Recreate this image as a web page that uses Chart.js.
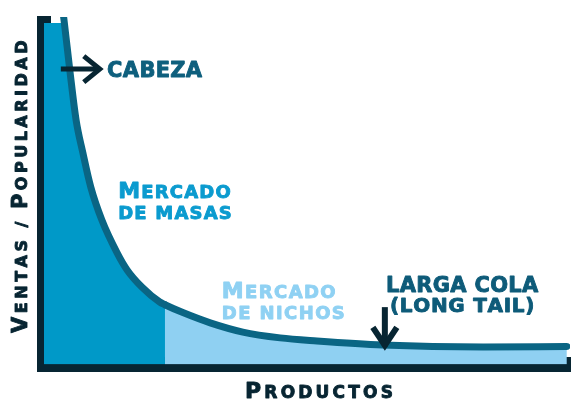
<!DOCTYPE html>
<html>
<head>
<meta charset="utf-8">
<script src="https://cdn.jsdelivr.net/npm/chart.js@4/dist/chart.umd.min.js"></script>
<style>
  html, body { margin: 0; padding: 0; background: #fff; }
</style>
</head>
<body>
<canvas id="myChart" width="571" height="401"></canvas>
<script>
  // posicion del producto en el ranking (0-100) y ventas relativas (0-100)
  const productos = [0, 3.0, 3.8, 4.9, 6.1, 7.4, 8.9, 11.0, 13.9, 15.8, 18.6, 22.0, 23.0, 26.4, 31.6, 37.8, 44.9, 51.9, 64.4, 83.5, 99.4];
  const ventas = [111, 110, 100.9, 86.3, 71.6, 61.9, 51.9, 42.3, 32.7, 27.7, 22.7, 18.3, 17.5, 15.2, 12.2, 9.5, 7.8, 6.9, 5.7, 5.1, 5.3];
  const corte = 23.0; // fin del mercado de masas

  const tituloY = 'Ventas / Popularidad';
  const tituloX = 'Productos';

  const azulOscuro = '#072532';
  const azulCurva = '#0a6584';
  const azulMasas = '#0099c8';
  const azulNichos = '#8fd0f2';

  // mayusculas grandes, minusculas como versalitas
  function drawCaps(ctx, text, x, y, big, small, spacing, align, color) {
    const font = s => 'bold ' + s + 'px "DejaVu Sans"';
    const runs = [...text].map(ch => ({ ch: ch.toUpperCase(), s: ch !== ch.toLowerCase() ? big : small }));
    let w = -spacing;
    runs.forEach(r => { ctx.font = font(r.s); r.w = ctx.measureText(r.ch).width + spacing; w += r.w; });
    let cx = align === 'center' ? x - w / 2 : x;
    ctx.fillStyle = color;
    ctx.strokeStyle = color;
    ctx.lineWidth = 0.9;
    ctx.lineJoin = 'round';
    ctx.textAlign = 'left';
    ctx.textBaseline = 'alphabetic';
    runs.forEach(r => {
      ctx.font = font(r.s);
      ctx.fillText(r.ch, cx, y);
      ctx.strokeText(r.ch, cx, y);
      cx += r.w;
    });
  }

  const notas = {
    id: 'notas',
    afterDraw(chart) {
      const ctx = chart.ctx;
      const xs = chart.scales.x, ys = chart.scales.y;
      const px = v => xs.getPixelForValue(v);
      const py = v => ys.getPixelForValue(v);
      const area = chart.chartArea;

      ctx.save();
      ctx.strokeStyle = azulOscuro;
      ctx.lineWidth = 5;
      ctx.lineJoin = 'miter';

      // flecha cabeza
      const ay = py(86.5);
      ctx.beginPath();
      ctx.moveTo(px(3.2), ay);
      ctx.lineTo(px(10.6), ay);
      ctx.stroke();
      ctx.beginPath();
      ctx.moveTo(px(10.6) - 16, ay - 13);
      ctx.lineTo(px(10.6), ay);
      ctx.lineTo(px(10.6) - 16, ay + 13);
      ctx.stroke();

      // flecha larga cola
      const ax = px(64.8);
      ctx.lineWidth = 6;
      ctx.beginPath();
      ctx.moveTo(ax, py(16.8));
      ctx.lineTo(ax, py(5.3));
      ctx.stroke();
      ctx.beginPath();
      ctx.moveTo(ax - 12, py(5.3) - 19);
      ctx.lineTo(ax, py(5.3) - 1);
      ctx.lineTo(ax + 12, py(5.3) - 19);
      ctx.stroke();

      drawCaps(ctx, 'CABEZA', px(12.0), py(84.2), 21, 21, 0.3, 'left', '#0e5f7d');
      drawCaps(ctx, 'Mercado', px(14.1), py(48.8), 22, 18, 1.2, 'left', '#0b9bcf');
      drawCaps(ctx, 'de masas', px(14.1), py(42.6), 22, 18, 1.2, 'left', '#0b9bcf');
      drawCaps(ctx, 'Mercado', px(33.8), py(19.5), 22, 18, 1.4, 'left', '#8fd1f3');
      drawCaps(ctx, 'de nichos', px(33.8), py(13.3), 22, 18, 1.4, 'left', '#8fd1f3');
      drawCaps(ctx, 'LARGA COLA', px(79.5), py(21.2), 21, 21, 0.3, 'center', '#0e5b79');
      drawCaps(ctx, '(LONG TAIL)', px(79.5), py(15.4), 20, 20, 0.7, 'center', '#0e5b79');

      // titulos de ejes
      drawCaps(ctx, tituloX, (area.left + area.right) / 2 + 12, 398, 22, 17, 3.2, 'center', azulOscuro);
      ctx.translate(area.left - 17, (area.top + area.bottom) / 2 - 7);
      ctx.rotate(-Math.PI / 2);
      drawCaps(ctx, tituloY, 0, 0, 21, 16, 3.5, 'center', azulOscuro);
      ctx.restore();
    }
  };

  const data = {
    datasets: [{
      label: 'Ventas',
      data: productos.map((x, i) => ({ x: x, y: ventas[i] })),
      borderColor: azulCurva,
      borderWidth: 7,
      borderCapStyle: 'round',
      backgroundColor: azulMasas,
      fill: 'origin',
      pointRadius: 0,
      cubicInterpolationMode: 'monotone',
      clip: { left: 0, top: 6, right: 0, bottom: 0 },
      segment: {
        backgroundColor: c => c.p0.parsed.x >= corte ? azulNichos : azulMasas
      }
    }]
  };

  const config = {
    type: 'line',
    data: data,
    options: {
      responsive: false,
      animation: false,
      devicePixelRatio: 1,
      layout: { padding: { left: 44, top: 23, right: 1, bottom: 36.5 } },
      plugins: { legend: { display: false }, tooltip: { enabled: false } },
      scales: {
        x: {
          type: 'linear', min: 0, max: 100, z: 1,
          ticks: { display: false },
          grid: { display: false, drawTicks: false },
          border: { color: azulOscuro, width: 15 }
        },
        y: {
          min: 0, max: 100, z: 1,
          ticks: { display: false },
          grid: { display: false, drawTicks: false },
          border: { color: azulOscuro, width: 14 }
        }
      }
    },
    plugins: [notas]
  };

  const myChart = new Chart(document.getElementById('myChart'), config);
</script>
</body>
</html>
